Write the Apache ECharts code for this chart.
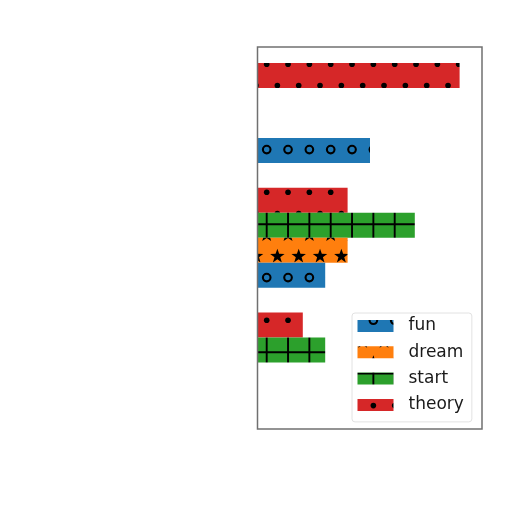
<!DOCTYPE html>
<html>
<head>
<meta charset="utf-8">
<script src="https://cdn.jsdelivr.net/npm/echarts@6/dist/echarts.min.js"></script>
<style>html,body{margin:0;padding:0;background:#fff}#c{width:512px;height:512px}</style>
</head>
<body>
<div id="c"></div>
<script>
const categories = ['A', 'B', 'C'];
const seriesNames = ['fun', 'dream', 'start', 'theory'];
const funValues = [0, 3, 5];
const dreamValues = [0, 4, 0];
const startValues = [3, 7, 0];
const theoryValues = [2, 4, 9];
const xTicks = [0, 10];

const colors = { fun: '#1f77b4', dream: '#ff7f0e', start: '#2ca02c', theory: '#d62728' };
const hatchKind = { fun: 'o', dream: '*', start: '+', theory: '.' };

function makePattern(base, kind) {
  const S = 128, step = S / 6;
  const c = document.createElement('canvas');
  c.width = S; c.height = S;
  const ctx = c.getContext('2d');
  ctx.fillStyle = base; ctx.fillRect(0, 0, S, S);
  ctx.fillStyle = '#000'; ctx.strokeStyle = '#000';
  const xA = 10.7, yA = 21.6;
  const offs = [-S, 0, S];
  if (kind === '+') {
    ctx.lineWidth = 1.9;
    for (let k = -1; k <= 7; k++) {
      const x = xA + k * step;
      ctx.beginPath(); ctx.moveTo(x, 0); ctx.lineTo(x, S); ctx.stroke();
      const y = yA - step / 2 + k * step;
      ctx.beginPath(); ctx.moveTo(0, y); ctx.lineTo(S, y); ctx.stroke();
    }
    return c;
  }
  function shape(x, y) {
    if (kind === '.') {
      ctx.beginPath(); ctx.arc(x, y, 2.8, 0, Math.PI * 2); ctx.fill();
    } else if (kind === 'o') {
      ctx.lineWidth = 2.1;
      ctx.beginPath(); ctx.arc(x, y, 3.8, 0, Math.PI * 2); ctx.stroke();
    } else if (kind === '*') {
      const R = 7.6, r = R * 0.4;
      ctx.beginPath();
      for (let i = 0; i < 10; i++) {
        const a = -Math.PI / 2 + i * Math.PI / 5;
        const rr = i % 2 === 0 ? R : r;
        const px = x + rr * Math.cos(a), py = y + rr * Math.sin(a);
        if (i === 0) ctx.moveTo(px, py); else ctx.lineTo(px, py);
      }
      ctx.closePath(); ctx.fill();
    }
  }
  for (let r = 0; r < 6; r++) {
    const y = yA + r * step;
    const x0 = r % 2 === 0 ? xA : xA + step / 2;
    for (let k = 0; k < 6; k++) {
      const x = x0 + k * step;
      for (const dx of offs) for (const dy of offs) shape(x + dx, y + dy);
    }
  }
  return c;
}

const valuesByName = { fun: funValues, dream: dreamValues, start: startValues, theory: theoryValues };
const patterns = {};
seriesNames.forEach(n => { patterns[n] = makePattern(colors[n], hatchKind[n]); });

// ECharts stacks horizontal groups top-down in series order; matplotlib puts the first series at the bottom.
const drawOrder = seriesNames.slice().reverse();
const series = drawOrder.map(name => ({
  name: name,
  type: 'bar',
  xAxisIndex: 0,
  yAxisIndex: 0,
  data: valuesByName[name],
  barWidth: 25,
  barGap: '0%',
  itemStyle: { color: { image: patterns[name], repeat: 'repeat' } }
}));

// legend icons: shift the pattern so the hatch stays on the page-wide grid
const legendLeft = 352, legendTop = 313, padT = 4.5, padL = 5.5, rowH = 17, gap = 9.3, iconH = 12;
const legendData = seriesNames.map((name, i) => ({
  name: name,
  itemStyle: {
    color: {
      image: patterns[name], repeat: 'repeat',
      x: -(legendLeft + padL),
      y: -(legendTop + padT + (rowH - iconH) / 2 + i * (rowH + gap))
    }
  }
}));

const chart = echarts.init(document.getElementById('c'), null, { renderer: 'canvas' });
chart.setOption({
  animation: false,
  backgroundColor: '#fff',
  grid: [
    { left: 258, width: 224, top: 50.6, height: 374.4, show: false },
    { left: 257.5, width: 224.5, top: 47, height: 382, show: true, borderColor: '#707070', borderWidth: 1.5, backgroundColor: 'transparent', z: 5 }
  ],
  xAxis: [
    { type: 'value', gridIndex: 0, min: xTicks[0], max: xTicks[1], show: false, splitLine: { show: false } },
    { type: 'value', gridIndex: 1, min: 0, max: 1, show: false, splitLine: { show: false } }
  ],
  yAxis: [
    { type: 'category', gridIndex: 0, data: categories, show: false },
    { type: 'value', gridIndex: 1, min: 0, max: 1, show: false, splitLine: { show: false } }
  ],
  legend: {
    data: legendData,
    orient: 'vertical',
    left: legendLeft,
    top: legendTop,
    padding: [padT, 8, 8.5, padL],
    itemWidth: 36,
    itemHeight: iconH,
    itemGap: gap,
    icon: 'rect',
    backgroundColor: 'rgba(255,255,255,0.85)',
    borderColor: '#e2e2e2',
    borderWidth: 1,
    borderRadius: 3,
    textStyle: { fontFamily: 'DejaVu Sans', fontSize: 17, lineHeight: rowH, color: '#1a1a1a', padding: [0, 0, 0, 10] }
  },
  series: series
});
</script>
</body>
</html>
